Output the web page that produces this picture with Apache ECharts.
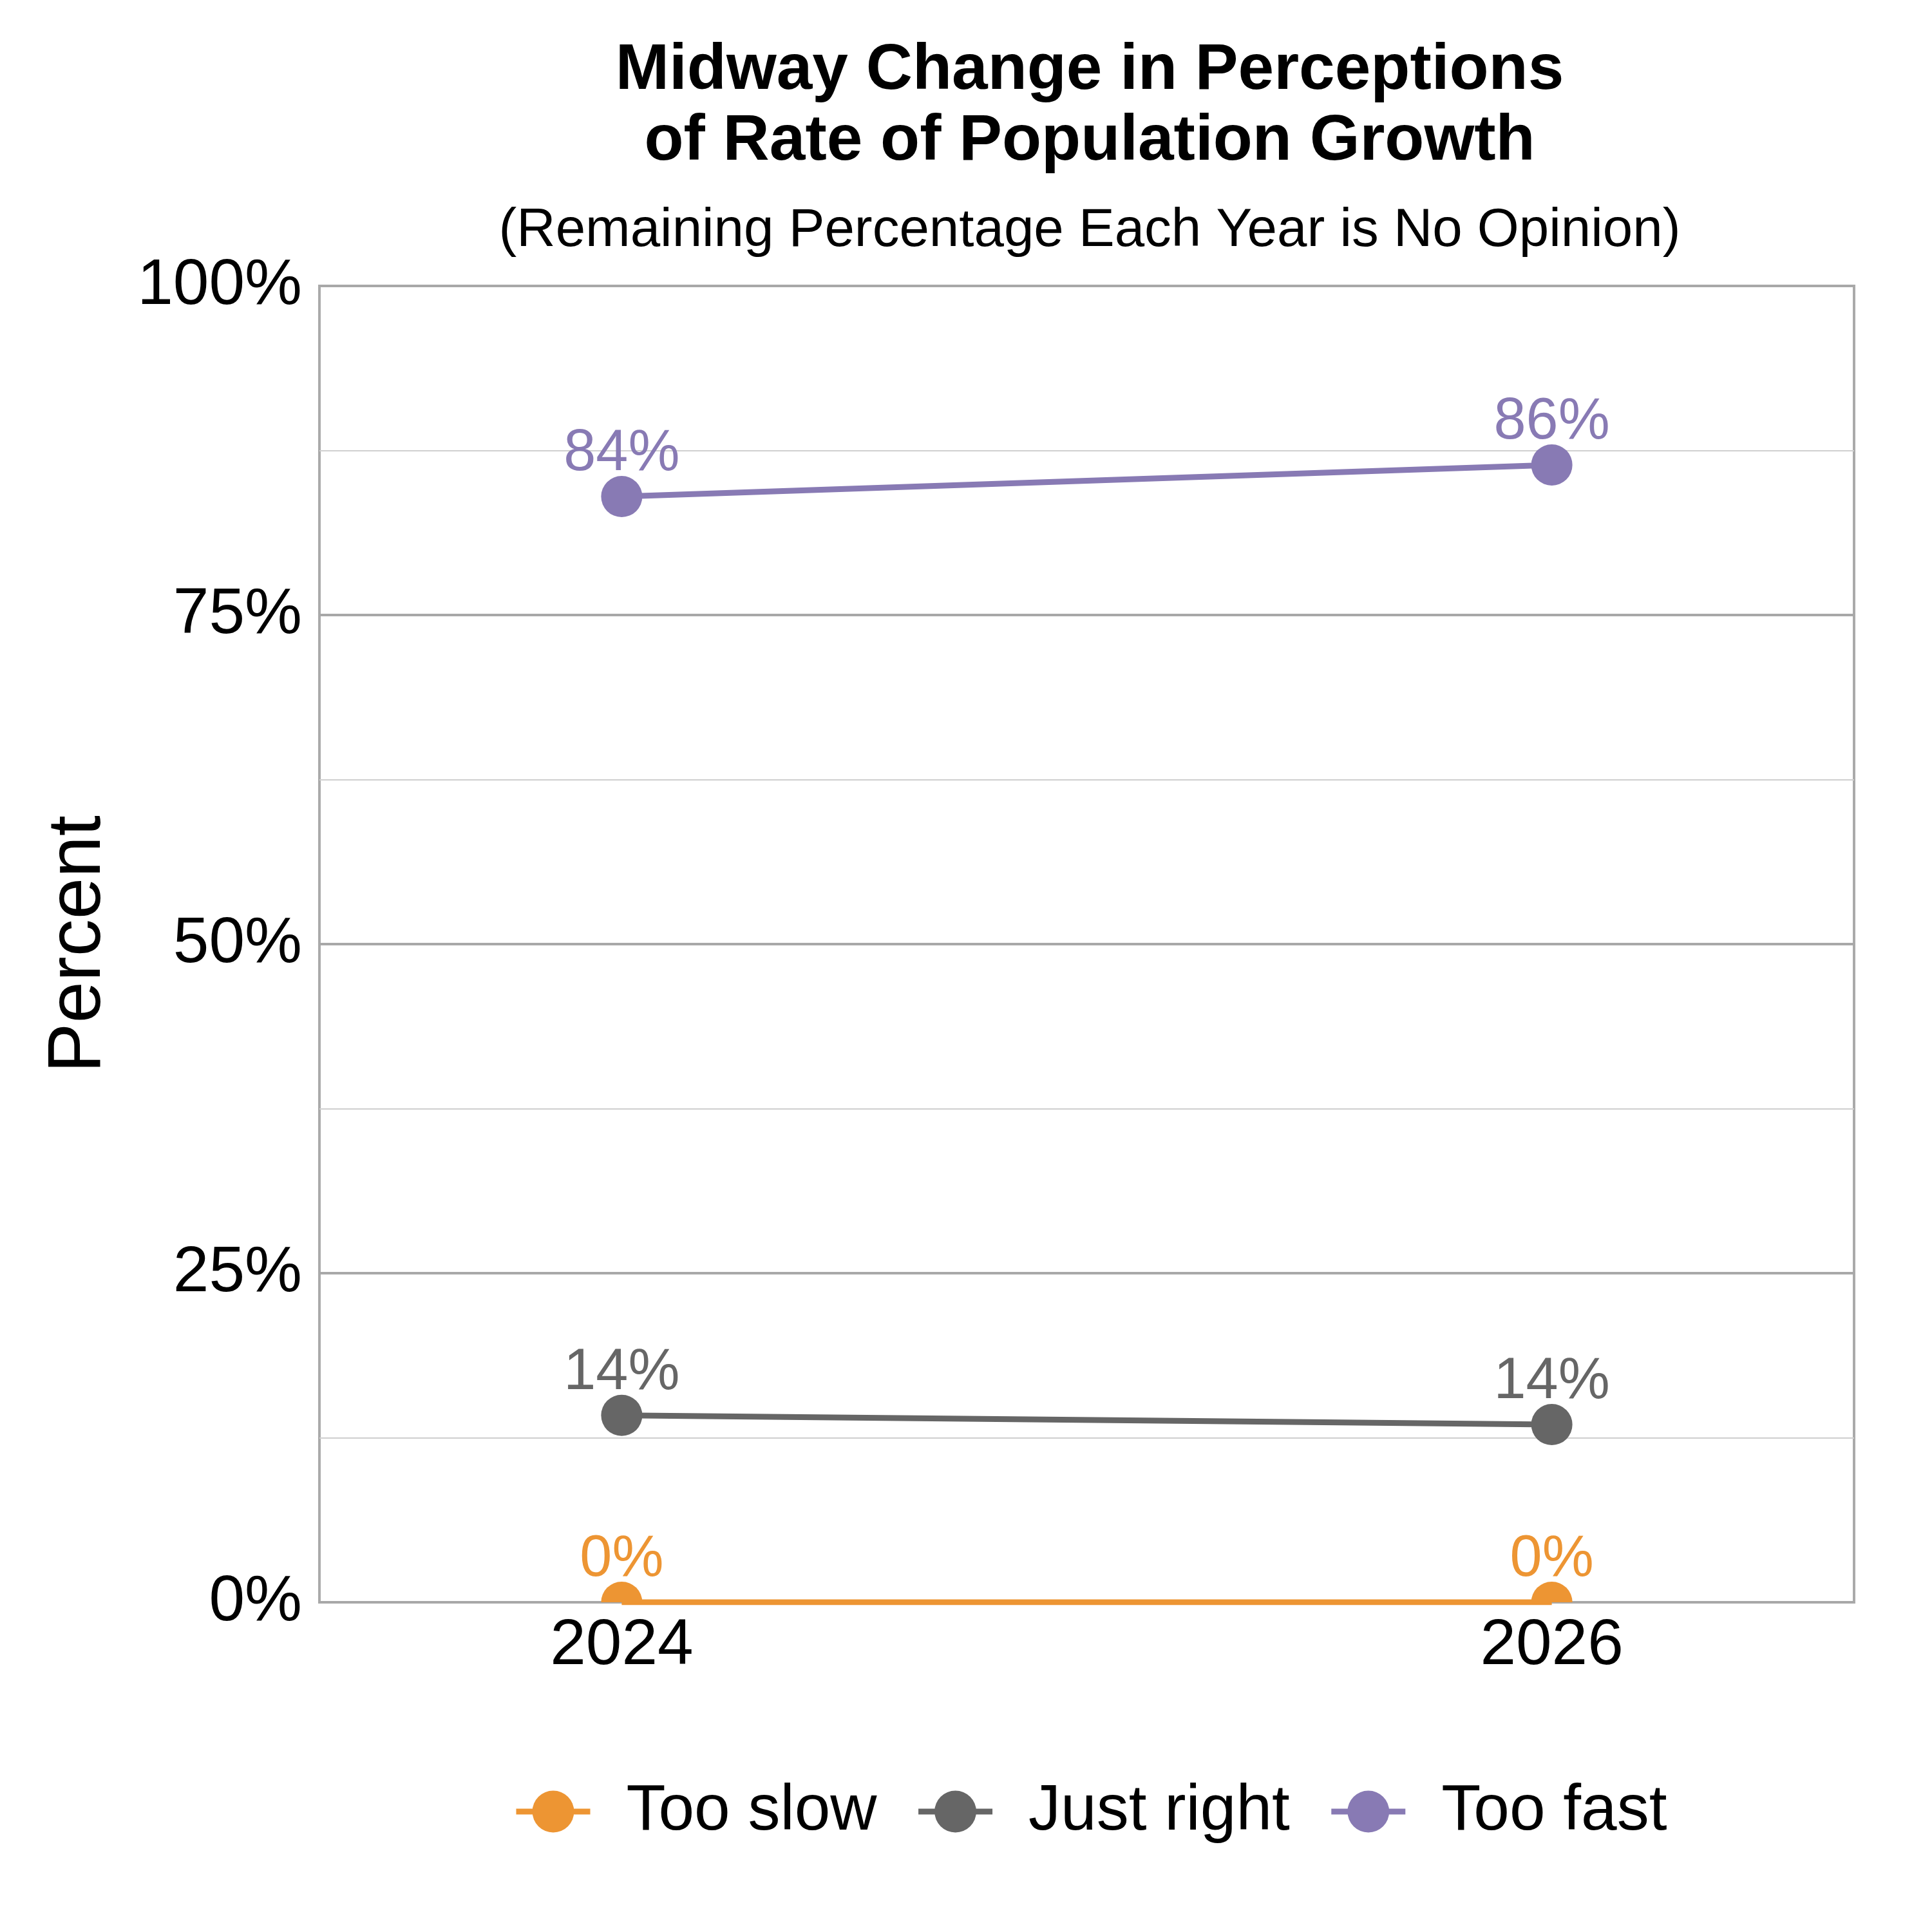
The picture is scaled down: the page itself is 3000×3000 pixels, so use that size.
<!DOCTYPE html>
<html>
<head>
<meta charset="utf-8">
<script src="https://cdn.jsdelivr.net/npm/echarts@6/dist/echarts.min.js"></script>
<style>html,body{margin:0;padding:0;background:#fff;}#c{width:3000px;height:3000px;}</style>
</head>
<body>
<div id="c"></div>
<script>
// ---- data ----
var years = [2024, 2026];
var seriesNames = ['Too slow', 'Just right', 'Too fast'];
var tooSlow = [0, 0];
var justRight = [14.2, 13.5];
var tooFast = [84.0, 86.4];
var yTicks = [0, 25, 50, 75, 100];
var titleLines = ['Midway Change in Perceptions', 'of Rate of Population Growth'];
var subtitle = '(Remaining Percentage Each Year is No Opinion)';
var yName = 'Percent';

// ---- style ----
var FONT = '"Liberation Sans", Arial, sans-serif';
var colors = ['#ED9533', '#666666', '#887AB4'];
var SYM = 64;
var LW = 9;

function pairs(vals) { return years.map(function (y, i) { return [y, vals[i]]; }); }

function lineSeries(name, vals, color, withSymbol) {
  return {
    name: name,
    type: 'line',
    data: pairs(vals),
    symbol: 'circle',
    symbolSize: SYM,
    showSymbol: withSymbol,
    clip: true,
    lineStyle: { color: color, width: LW },
    itemStyle: { color: color },
    label: {
      show: withSymbol,
      position: 'top',
      distance: -11,
      color: color,
      fontSize: 90,
      fontFamily: FONT,
      formatter: function (p) { return Math.round(p.value[1]) + '%'; }
    },
    z: 3
  };
}

var chart = echarts.init(document.getElementById('c'), null, { renderer: 'canvas' });
chart.setOption({
  animation: false,
  backgroundColor: '#ffffff',
  title: [
    {
      text: titleLines.join('\n'),
      left: 1687, top: 50, textAlign: 'center',
      textStyle: { fontFamily: FONT, fontSize: 100, fontWeight: 'bold', color: '#000', lineHeight: 110 }
    },
    {
      text: subtitle,
      left: 1687, top: 309, textAlign: 'center',
      textStyle: { fontFamily: FONT, fontSize: 83.5, fontWeight: 'normal', color: '#000', lineHeight: 90 }
    }
  ],
  grid: {
    left: 496, right: 121, top: 444, bottom: 512,
    show: true, borderColor: '#aaaaaa', borderWidth: 4, backgroundColor: '#ffffff',
    containLabel: false
  },
  legend: {
    data: seriesNames,
    left: 792, top: 2758,
    orient: 'horizontal',
    itemWidth: 115, itemHeight: 81, itemGap: 60,
    lineStyle: { width: LW },
    textStyle: { fontFamily: FONT, fontSize: 100, color: '#000', padding: [0, 0, 0, 51] }
  },
  xAxis: {
    type: 'value',
    min: 2023.35, max: 2026.65,
    axisLine: { show: false },
    axisTick: { show: false },
    splitLine: { show: false },
    axisLabel: {
      customValues: years,
      fontFamily: FONT, fontSize: 100, color: '#000', margin: 18,
      formatter: function (v) { return String(v); }
    }
  },
  yAxis: {
    type: 'value',
    min: 0, max: 100, interval: 25,
    name: yName,
    nameLocation: 'middle',
    nameGap: 315,
    nameTextStyle: { fontFamily: FONT, fontSize: 116, color: '#000' },
    axisLine: { show: false },
    axisTick: { show: false },
    axisLabel: {
      fontFamily: FONT, fontSize: 100, color: '#000', margin: 27,
      formatter: function (v) { return yTicks.indexOf(v) >= 0 ? v + '%' : ''; }
    },
    splitLine: { show: true, lineStyle: { color: '#a8a8a8', width: 4 } },
    minorTick: { show: false, splitNumber: 2 },
    minorSplitLine: { show: true, lineStyle: { color: '#cfcfcf', width: 2 } }
  },
  series: [
    lineSeries(seriesNames[0], tooSlow, colors[0], false),
    lineSeries(seriesNames[1], justRight, colors[1], true),
    lineSeries(seriesNames[2], tooFast, colors[2], true),
    {
      name: seriesNames[0],
      type: 'custom',
      clip: true,
      data: pairs(tooSlow),
      z: 4,
      renderItem: function (params, api) {
        var p = api.coord([api.value(0), api.value(1)]);
        var cs = params.coordSys;
        return {
          type: 'group',
          children: [
            {
              type: 'circle',
              shape: { cx: p[0], cy: p[1], r: SYM / 2 },
              style: { fill: colors[0] },
              clipPath: { type: 'rect', shape: { x: cs.x, y: cs.y, width: cs.width, height: cs.height } }
            },
            {
              type: 'text',
              x: p[0], y: p[1] - SYM / 2 + 11,
              style: {
                text: Math.round(api.value(1)) + '%',
                fill: colors[0], fontSize: 90, fontFamily: FONT,
                align: 'center', verticalAlign: 'bottom'
              }
            }
          ]
        };
      }
    }
  ]
});
</script>
</body>
</html>
